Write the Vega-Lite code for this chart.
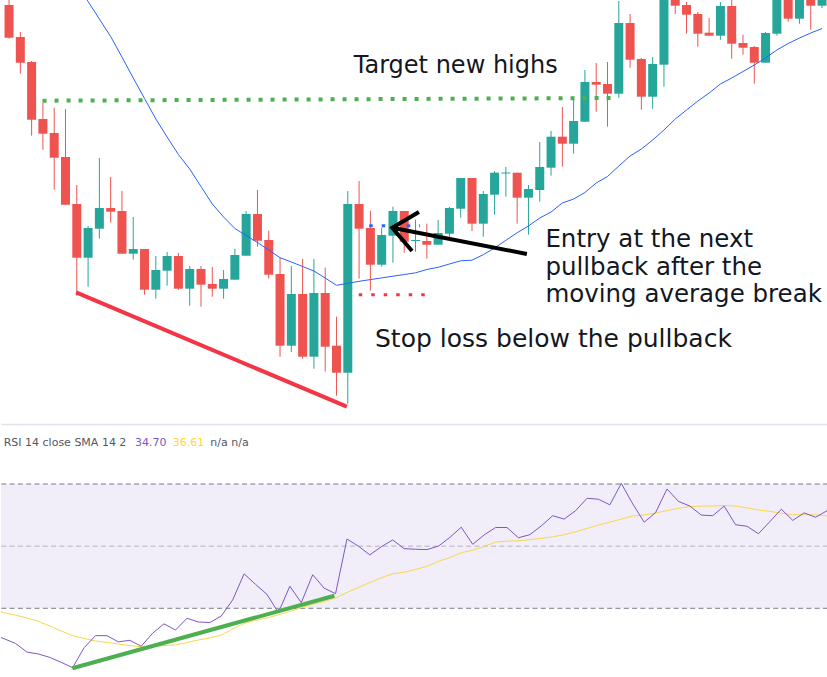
{
  "$schema": "https://vega.github.io/schema/vega-lite/v6.json",
  "padding": 0,
  "background": "white",
  "spacing": 0,
  "bounds": "flush",
  "config": {"view": {"stroke": null}},
  "resolve": {"scale": {"x": "independent", "y": "independent"}},
  "datasets": {
    "one": [{}],
    "candles": [
      {"i":0,"o":445,"h":453,"l":411.3,"c":412.3},
      {"i":1,"o":413,"h":418,"l":376.3,"c":387.3},
      {"i":2,"o":388,"h":389,"l":314.3,"c":330.3},
      {"i":3,"o":331,"h":347.3,"l":300.3,"c":316.3},
      {"i":4,"o":317,"h":342.3,"l":260.3,"c":292.3},
      {"i":5,"o":293,"h":341,"l":245.3,"c":245.3},
      {"i":6,"o":246,"h":265,"l":154.3,"c":192.3},
      {"i":7,"o":192.3,"h":224,"l":163.3,"c":222},
      {"i":8,"o":221.3,"h":292,"l":211.3,"c":242},
      {"i":9,"o":242,"h":273,"l":227.3,"c":238.3},
      {"i":10,"o":239,"h":259,"l":196.3,"c":196.3},
      {"i":11,"o":196.3,"h":233,"l":190.3,"c":201},
      {"i":12,"o":201,"h":201,"l":155.3,"c":160.3},
      {"i":13,"o":160.3,"h":194,"l":151.3,"c":180},
      {"i":14,"o":179.3,"h":198,"l":164.3,"c":194},
      {"i":15,"o":194,"h":197,"l":160.3,"c":161.3},
      {"i":16,"o":161.3,"h":184,"l":144.3,"c":181},
      {"i":17,"o":181,"h":184,"l":143.3,"c":165.3},
      {"i":18,"o":166,"h":183,"l":153.3,"c":161.3},
      {"i":19,"o":161.3,"h":180,"l":151.3,"c":171},
      {"i":20,"o":170.3,"h":201.3,"l":170.3,"c":195},
      {"i":21,"o":194.3,"h":239,"l":194.3,"c":236},
      {"i":22,"o":236,"h":260,"l":203.3,"c":209.3},
      {"i":23,"o":210,"h":219.3,"l":171.3,"c":175.3},
      {"i":24,"o":176,"h":192.3,"l":93.3,"c":104.3},
      {"i":25,"o":104.3,"h":184,"l":98,"c":156},
      {"i":26,"o":156,"h":191,"l":91.3,"c":93.3},
      {"i":27,"o":93.3,"h":191,"l":81.3,"c":157},
      {"i":28,"o":157,"h":182.3,"l":78.3,"c":103.3},
      {"i":29,"o":104.3,"h":133.3,"l":54.3,"c":77.3},
      {"i":30,"o":77.3,"h":259,"l":46.3,"c":246},
      {"i":31,"o":246,"h":269,"l":171.3,"c":221.3},
      {"i":32,"o":222,"h":239.3,"l":159.3,"c":185.3},
      {"i":33,"o":185.3,"h":222.3,"l":183.3,"c":215},
      {"i":34,"o":214.3,"h":243.3,"l":187.3,"c":239},
      {"i":35,"o":239,"h":239,"l":197.3,"c":208.3},
      {"i":36,"o":209,"h":230.3,"l":198.3,"c":210},
      {"i":37,"o":209,"h":226.3,"l":191.3,"c":205.3},
      {"i":38,"o":205.3,"h":230,"l":205.3,"c":217},
      {"i":39,"o":216.3,"h":243,"l":213,"c":242},
      {"i":40,"o":241.3,"h":272,"l":232.3,"c":272},
      {"i":41,"o":272,"h":272,"l":219,"c":226.3},
      {"i":42,"o":226.3,"h":259,"l":213.3,"c":256},
      {"i":43,"o":255.3,"h":279,"l":235.3,"c":277.3},
      {"i":44,"o":276.5,"h":283,"l":253.3,"c":277.5},
      {"i":45,"o":277.3,"h":277.3,"l":226.3,"c":252.3},
      {"i":46,"o":252.3,"h":265,"l":215.3,"c":261},
      {"i":47,"o":260,"h":308,"l":248.3,"c":283},
      {"i":48,"o":282.3,"h":319,"l":274.3,"c":313.3},
      {"i":49,"o":313.3,"h":343,"l":283.3,"c":306.3},
      {"i":50,"o":306.3,"h":351,"l":296.3,"c":329},
      {"i":51,"o":328.3,"h":380,"l":328.3,"c":368},
      {"i":52,"o":368,"h":387,"l":338.3,"c":365.3},
      {"i":53,"o":366,"h":388,"l":323.3,"c":356.3},
      {"i":54,"o":356.3,"h":449,"l":352.3,"c":427},
      {"i":55,"o":427,"h":436,"l":382.3,"c":390.3},
      {"i":56,"o":391,"h":392,"l":340.3,"c":353.3},
      {"i":57,"o":353.3,"h":393,"l":341.3,"c":386},
      {"i":58,"o":385.3,"h":475,"l":363.3,"c":470},
      {"i":59,"o":470,"h":474,"l":436,"c":444.3},
      {"i":60,"o":445,"h":448,"l":416.3,"c":435.3},
      {"i":61,"o":436,"h":438,"l":403.3,"c":416.3},
      {"i":62,"o":417.3,"h":432,"l":414.3,"c":414.3},
      {"i":63,"o":414.3,"h":448,"l":410.3,"c":444},
      {"i":64,"o":444,"h":452,"l":391.3,"c":406.3},
      {"i":65,"o":407,"h":415.3,"l":395.3,"c":402.3},
      {"i":66,"o":403,"h":404,"l":366.3,"c":387.3},
      {"i":67,"o":387.3,"h":418,"l":387.3,"c":417},
      {"i":68,"o":416.3,"h":462,"l":414.3,"c":458},
      {"i":69,"o":458,"h":460,"l":428.3,"c":431.3},
      {"i":70,"o":431.3,"h":460,"l":426.3,"c":456},
      {"i":71,"o":456,"h":458,"l":420.3,"c":444.3},
      {"i":72,"o":444.3,"h":464,"l":442,"c":460}
    ],
    "ma": [
      {"i":4,"v":501},{"i":5,"v":483},{"i":6,"v":466},{"i":7,"v":448.5},{"i":8,"v":431},{"i":9,"v":413.5},
      {"i":10,"v":393},{"i":11,"v":372},{"i":12,"v":351.5},{"i":13,"v":331},{"i":14,"v":313},{"i":15,"v":295.5},
      {"i":16,"v":281},{"i":17,"v":263.5},{"i":18,"v":246},{"i":19,"v":233},{"i":20,"v":221.5},{"i":21,"v":214.5},
      {"i":22,"v":207.5},{"i":23,"v":200},{"i":24,"v":192.3},{"i":25,"v":188},{"i":26,"v":183.5},{"i":27,"v":179},
      {"i":28,"v":172},{"i":29,"v":164.7},{"i":30,"v":166.7},{"i":31,"v":168.7},{"i":32,"v":170.4},{"i":33,"v":172.1},
      {"i":34,"v":173.8},{"i":35,"v":175.5},{"i":36,"v":177.2},{"i":37,"v":180.5},{"i":38,"v":182.7},{"i":39,"v":186},
      {"i":40,"v":189.2},{"i":41,"v":189.8},{"i":42,"v":195.3},{"i":43,"v":202},{"i":44,"v":209.7},{"i":45,"v":217.3},
      {"i":46,"v":224},{"i":47,"v":232},{"i":48,"v":238},{"i":49,"v":247},{"i":50,"v":251},{"i":51,"v":257.5},
      {"i":52,"v":267},{"i":53,"v":273.5},{"i":54,"v":284},{"i":55,"v":294},{"i":56,"v":301},{"i":57,"v":310},
      {"i":58,"v":320},{"i":59,"v":331},{"i":60,"v":340},{"i":61,"v":349},{"i":62,"v":357},{"i":63,"v":366},
      {"i":64,"v":372},{"i":65,"v":378.5},{"i":66,"v":385},{"i":67,"v":392},{"i":68,"v":400},{"i":69,"v":406.5},
      {"i":70,"v":412},{"i":71,"v":417},{"i":72,"v":421.5}
    ],
    "rsi": [
      {"i":-1,"rsi":21.6,"sma":29.8},{"i":0,"rsi":20.2,"sma":28.6},{"i":1,"rsi":18.7,"sma":27.8},{"i":2,"rsi":15.9,"sma":26.9},
      {"i":3,"rsi":15.3,"sma":25.8},{"i":4,"rsi":14.2,"sma":24.3},{"i":5,"rsi":12.6,"sma":22.7},{"i":6,"rsi":10.9,"sma":21.2},
      {"i":7,"rsi":17.3,"sma":20.3},{"i":8,"rsi":21.2,"sma":19.5},{"i":9,"rsi":21.2,"sma":19.0},{"i":10,"rsi":19.2,"sma":18.5},
      {"i":11,"rsi":19.7,"sma":18.0},{"i":12,"rsi":17.8,"sma":17.6},{"i":13,"rsi":22.0,"sma":17.8},{"i":14,"rsi":25.0,"sma":18.0},
      {"i":15,"rsi":23.0,"sma":18.2},{"i":16,"rsi":26.8,"sma":19.0},{"i":17,"rsi":25.6,"sma":19.8},{"i":18,"rsi":25.4,"sma":20.5},
      {"i":19,"rsi":27.5,"sma":21.4},{"i":20,"rsi":32.7,"sma":23.3},{"i":21,"rsi":41.1,"sma":25.1},{"i":22,"rsi":37.7,"sma":26.1},
      {"i":23,"rsi":34.5,"sma":26.9},{"i":24,"rsi":28.6,"sma":27.9},{"i":25,"rsi":37.1,"sma":29.0},{"i":26,"rsi":31.8,"sma":30.2},
      {"i":27,"rsi":40.8,"sma":31.2},{"i":28,"rsi":36.5,"sma":32.2},{"i":29,"rsi":34.7,"sma":33.3},{"i":30,"rsi":52.3,"sma":35.1},
      {"i":31,"rsi":50.0,"sma":36.7},{"i":32,"rsi":47.2,"sma":38.3},{"i":33,"rsi":49.8,"sma":39.8},{"i":34,"rsi":52.0,"sma":41.1},
      {"i":35,"rsi":49.2,"sma":41.6},{"i":36,"rsi":49.0,"sma":42.5},{"i":37,"rsi":48.9,"sma":43.5},{"i":38,"rsi":50.0,"sma":45.1},
      {"i":39,"rsi":52.8,"sma":46.3},{"i":40,"rsi":56.1,"sma":47.9},{"i":41,"rsi":50.6,"sma":48.7},{"i":42,"rsi":53.6,"sma":49.9},
      {"i":43,"rsi":56.0,"sma":51.3},{"i":44,"rsi":56.0,"sma":51.6},{"i":45,"rsi":52.7,"sma":51.7},{"i":46,"rsi":53.7,"sma":52.1},
      {"i":47,"rsi":56.5,"sma":52.5},{"i":48,"rsi":59.8,"sma":53.0},{"i":49,"rsi":58.7,"sma":53.7},{"i":50,"rsi":61.4,"sma":54.6},
      {"i":51,"rsi":65.4,"sma":55.7},{"i":52,"rsi":65.1,"sma":56.8},{"i":53,"rsi":63.3,"sma":57.7},{"i":54,"rsi":70.2,"sma":58.7},
      {"i":55,"rsi":63.6,"sma":59.7},{"i":56,"rsi":57.7,"sma":60.0},{"i":57,"rsi":60.8,"sma":60.7},{"i":58,"rsi":68.4,"sma":61.4},
      {"i":59,"rsi":64.4,"sma":62.2},{"i":60,"rsi":62.9,"sma":62.7},{"i":61,"rsi":60.0,"sma":62.9},{"i":62,"rsi":59.8,"sma":62.9},
      {"i":63,"rsi":62.9,"sma":63.1},{"i":64,"rsi":56.9,"sma":62.9},{"i":65,"rsi":56.4,"sma":62.3},{"i":66,"rsi":54.0,"sma":61.6},
      {"i":67,"rsi":57.9,"sma":61.2},{"i":68,"rsi":61.9,"sma":60.6},{"i":69,"rsi":58.3,"sma":60.1},{"i":70,"rsi":60.7,"sma":60.1},
      {"i":71,"rsi":59.3,"sma":60.1},{"i":72,"rsi":61.4,"sma":59.7}
    ]
  },
  "vconcat": [
    {
      "width": 827,
      "height": 424,
      "encoding": {
        "x": {"field": "i", "type": "quantitative", "scale": {"domain": [-0.269, 72.085], "nice": false, "zero": false}, "axis": null}
      },
      "layer": [
        {
          "data": {"name": "candles"},
          "mark": {"type": "rule", "strokeWidth": 1, "clip": true},
          "encoding": {
            "y": {"field": "h", "type": "quantitative", "scale": {"domain": [26, 450], "nice": false, "zero": false}, "axis": null},
            "y2": {"field": "l"},
            "color": {"condition": {"test": "datum.c >= datum.o", "value": "#26a69a"}, "value": "#ef5350"}
          }
        },
        {
          "data": {"name": "candles"},
          "mark": {"type": "bar", "width": 9, "clip": true},
          "encoding": {
            "y": {"field": "o", "type": "quantitative"},
            "y2": {"field": "c"},
            "color": {"condition": {"test": "datum.c >= datum.o", "value": "#26a69a"}, "value": "#ef5350"}
          }
        },
        {
          "data": {"name": "ma"},
          "mark": {"type": "line", "color": "#2962ff", "strokeWidth": 1, "clip": true},
          "encoding": {"y": {"field": "v", "type": "quantitative"}}
        },
        {
          "data": {"values": [{"i": 5.94, "p": 157.7}, {"i": 29.92, "p": 43.3}]},
          "mark": {"type": "line", "color": "#f23645", "strokeWidth": 4, "clip": true},
          "encoding": {"y": {"field": "p", "type": "quantitative"}}
        },
        {
          "data": {"values": [{"i": 2.97, "p": 349.3}, {"i": 53.7, "p": 352}]},
          "mark": {"type": "line", "color": "#4caf50", "strokeWidth": 4, "strokeDash": [4, 8], "strokeCap": "butt"},
          "encoding": {"y": {"field": "p", "type": "quantitative"}}
        },
        {
          "data": {"values": [{"i": 30.97, "p": 155.3}, {"i": 37.6, "p": 155.3}]},
          "mark": {"type": "line", "color": "#f23645", "strokeWidth": 3, "strokeDash": [3.5, 9], "strokeCap": "butt"},
          "encoding": {"y": {"field": "p", "type": "quantitative"}}
        },
        {
          "data": {"values": [{"i": 31.9, "p": 224.3}, {"i": 36.4, "p": 224.3}]},
          "mark": {"type": "line", "color": "#2962ff", "strokeWidth": 3, "strokeDash": [3.5, 9], "strokeCap": "butt"},
          "encoding": {"y": {"field": "p", "type": "quantitative"}}
        },
        {
          "data": {"values": [{"i": 33.94, "p": 222.3}, {"i": 45.86, "p": 196}]},
          "mark": {"type": "line", "color": "#000000", "strokeWidth": 4},
          "encoding": {"y": {"field": "p", "type": "quantitative"}}
        },
        {
          "data": {"values": [{"k": 0, "i": 36.3, "p": 238}, {"k": 1, "i": 33.94, "p": 222.3}, {"k": 2, "i": 35.69, "p": 199}]},
          "mark": {"type": "line", "color": "#000000", "strokeWidth": 4, "strokeJoin": "miter"},
          "encoding": {"y": {"field": "p", "type": "quantitative"}, "order": {"field": "k", "type": "quantitative"}}
        },
        {
          "data": {"values": [{"i": 30.53, "p": 377.3, "t": "Target new highs"}]},
          "mark": {"type": "text", "align": "left", "baseline": "alphabetic", "font": "DejaVu Sans", "fontSize": 24, "color": "#131722"},
          "encoding": {"y": {"field": "p", "type": "quantitative"}, "text": {"field": "t"}}
        },
        {
          "data": {"values": [
            {"i": 47.5, "p": 202.7, "t": "Entry at the next"},
            {"i": 47.5, "p": 175.3, "t": "pullback after the"},
            {"i": 47.5, "p": 148.3, "t": "moving average break"}
          ]},
          "mark": {"type": "text", "align": "left", "baseline": "alphabetic", "font": "DejaVu Sans", "fontSize": 24.5, "color": "#131722"},
          "encoding": {"y": {"field": "p", "type": "quantitative"}, "text": {"field": "t"}}
        },
        {
          "data": {"values": [{"i": 32.41, "p": 103.3, "t": "Stop loss below the pullback"}]},
          "mark": {"type": "text", "align": "left", "baseline": "alphabetic", "font": "DejaVu Sans", "fontSize": 25, "color": "#131722"},
          "encoding": {"y": {"field": "p", "type": "quantitative"}, "text": {"field": "t"}}
        }
      ]
    },
    {
      "width": 827,
      "height": 253,
      "layer": [
        {
          "data": {"name": "one"},
          "mark": {"type": "rect", "color": "#f2eef9"},
          "encoding": {
            "y": {"datum": 70, "type": "quantitative", "scale": {"domain": [7.89, 89.31], "nice": false, "zero": false}, "axis": null},
            "y2": {"datum": 30}
          }
        },
        {
          "data": {"name": "one"},
          "mark": {"type": "rule", "color": "#787b86", "strokeWidth": 1, "strokeDash": [5, 3.3]},
          "encoding": {"y": {"datum": 70, "type": "quantitative"}}
        },
        {
          "data": {"name": "one"},
          "mark": {"type": "rule", "color": "#787b86", "strokeWidth": 1, "strokeDash": [5, 3.3]},
          "encoding": {"y": {"datum": 30, "type": "quantitative"}}
        },
        {
          "data": {"name": "one"},
          "mark": {"type": "rule", "color": "#787b86", "opacity": 0.5, "strokeWidth": 1, "strokeDash": [5, 3.3]},
          "encoding": {"y": {"datum": 50, "type": "quantitative"}}
        },
        {
          "data": {"name": "rsi"},
          "mark": {"type": "line", "color": "#f7d84a", "strokeWidth": 1, "clip": true},
          "encoding": {
            "x": {"field": "i", "type": "quantitative", "scale": {"domain": [-0.269, 72.085], "nice": false, "zero": false}, "axis": {"orient": "top", "labels": false, "ticks": false, "grid": false, "title": null, "domainColor": "#e0e3eb", "domainWidth": 1.5}},
            "y": {"field": "sma", "type": "quantitative"}
          }
        },
        {
          "data": {"name": "rsi"},
          "mark": {"type": "line", "color": "#7e57c2", "strokeWidth": 1, "clip": true},
          "encoding": {
            "x": {"field": "i", "type": "quantitative", "axis": {"orient": "top", "labels": false, "ticks": false, "grid": false, "title": null, "domainColor": "#e0e3eb", "domainWidth": 1.5}},
            "y": {"field": "rsi", "type": "quantitative"}
          }
        },
        {
          "data": {"values": [{"i": 5.97, "v": 10.69}, {"i": 28.9, "v": 34.05}]},
          "mark": {"type": "line", "color": "#4caf50", "strokeWidth": 4},
          "encoding": {
            "x": {"field": "i", "type": "quantitative", "axis": {"orient": "top", "labels": false, "ticks": false, "grid": false, "title": null, "domainColor": "#e0e3eb", "domainWidth": 1.5}},
            "y": {"field": "v", "type": "quantitative"}
          }
        },
        {
          "data": {"name": "one"},
          "mark": {"type": "text", "align": "left", "baseline": "alphabetic", "font": "DejaVu Sans", "fontSize": 11, "color": "#55575f", "text": "RSI 14 close SMA 14 2"},
          "encoding": {"x": {"datum": -0.033, "type": "quantitative"}, "y": {"datum": 82.33, "type": "quantitative"}}
        },
        {
          "data": {"name": "one"},
          "mark": {"type": "text", "align": "left", "baseline": "alphabetic", "font": "DejaVu Sans", "fontSize": 11, "color": "#7e57c2", "text": "34.70"},
          "encoding": {"x": {"datum": 11.455, "type": "quantitative"}, "y": {"datum": 82.33, "type": "quantitative"}}
        },
        {
          "data": {"name": "one"},
          "mark": {"type": "text", "align": "left", "baseline": "alphabetic", "font": "DejaVu Sans", "fontSize": 11, "color": "#fdd835", "text": "36.61"},
          "encoding": {"x": {"datum": 14.752, "type": "quantitative"}, "y": {"datum": 82.33, "type": "quantitative"}}
        },
        {
          "data": {"name": "one"},
          "mark": {"type": "text", "align": "left", "baseline": "alphabetic", "font": "DejaVu Sans", "fontSize": 11, "color": "#55575f", "text": "n/a n/a"},
          "encoding": {"x": {"datum": 18.042, "type": "quantitative"}, "y": {"datum": 82.33, "type": "quantitative"}}
        }
      ]
    }
  ]
}
